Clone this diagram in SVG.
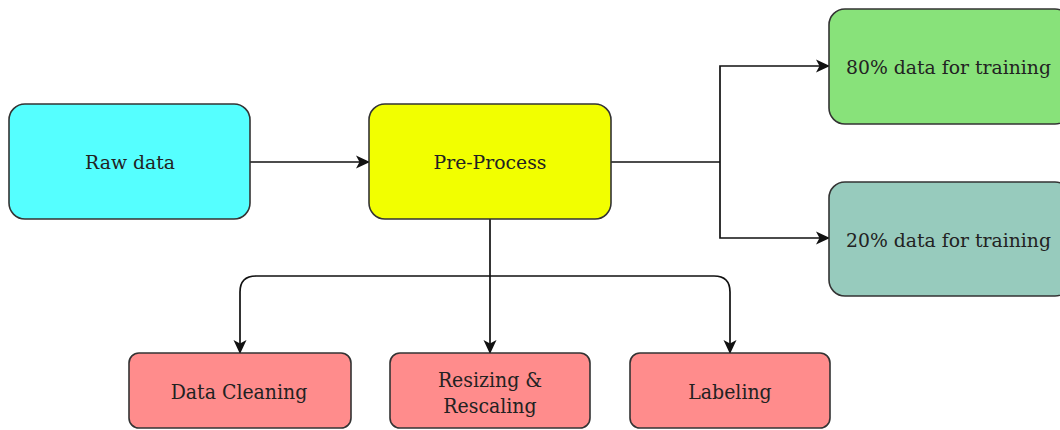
<svg xmlns="http://www.w3.org/2000/svg" width="1060" height="430" viewBox="0 0 1060 430">
  <style>
    .box { stroke: #333333; stroke-width: 1.6; }
    .lbl { font-family: "DejaVu Serif", "Liberation Serif", serif; font-size: 18.8px; fill: #222222; text-anchor: middle; }
    .lbl-c { font-family: "DejaVu Serif Condensed", "DejaVu Serif", "Liberation Serif", serif; font-size: 21px; fill: #222222; text-anchor: middle; }
    .edge { fill: none; stroke: #111111; stroke-width: 1.7; }
  </style>
  <defs>
    <marker id="arrow" viewBox="0 0 14 14" refX="13" refY="7" markerWidth="14" markerHeight="14" markerUnits="userSpaceOnUse" orient="auto">
      <path d="M0,0.5 L14,7 L0,13.5 L3.5,7 Z" fill="#111111"/>
    </marker>
  </defs>
  <rect width="1060" height="430" fill="#ffffff"/>

  <g id="connectors">
    <line class="edge" x1="250" y1="162" x2="369" y2="162" marker-end="url(#arrow)"/>
    <polyline class="edge" points="611,162 720,162"/>
    <polyline class="edge" points="720,162 720,66 829,66" marker-end="url(#arrow)"/>
    <polyline class="edge" points="720,162 720,238 829,238" marker-end="url(#arrow)"/>
    <line class="edge" x1="490" y1="219" x2="490" y2="353" marker-end="url(#arrow)"/>
    <path class="edge" d="M490,276 H256 Q240,276 240,292 V353" marker-end="url(#arrow)"/>
    <path class="edge" d="M490,276 H714 Q730,276 730,292 V353" marker-end="url(#arrow)"/>
  </g>

  <g id="raw-data">
    <rect class="box" x="9" y="104" width="241" height="115" rx="16" fill="#55ffff"/>
    <text class="lbl" x="130" y="169">Raw data</text>
  </g>
  <g id="pre-process">
    <rect class="box" x="369" y="104" width="242" height="115" rx="16" fill="#f2ff00"/>
    <text class="lbl" x="490" y="169">Pre-Process</text>
  </g>
  <g id="train-80">
    <rect class="box" x="829" y="9" width="242" height="115" rx="16" fill="#88e27a"/>
    <text class="lbl" x="948.5" y="74">80% data for training</text>
  </g>
  <g id="train-20">
    <rect class="box" x="829" y="182" width="242" height="114" rx="16" fill="#97cbbd"/>
    <text class="lbl" x="948.5" y="247">20% data for training</text>
  </g>
  <g id="data-cleaning">
    <rect class="box" x="129" y="353" width="222" height="75" rx="10" fill="#ff8c8c"/>
    <text class="lbl-c" x="239" y="399">Data Cleaning</text>
  </g>
  <g id="resizing-rescaling">
    <rect class="box" x="390" y="353" width="200" height="75" rx="10" fill="#ff8c8c"/>
    <text class="lbl-c" x="490" y="387">Resizing &amp;</text>
    <text class="lbl-c" x="490" y="413">Rescaling</text>
  </g>
  <g id="labeling">
    <rect class="box" x="630" y="353" width="200" height="75" rx="10" fill="#ff8c8c"/>
    <text class="lbl-c" x="730" y="399">Labeling</text>
  </g>
</svg>
